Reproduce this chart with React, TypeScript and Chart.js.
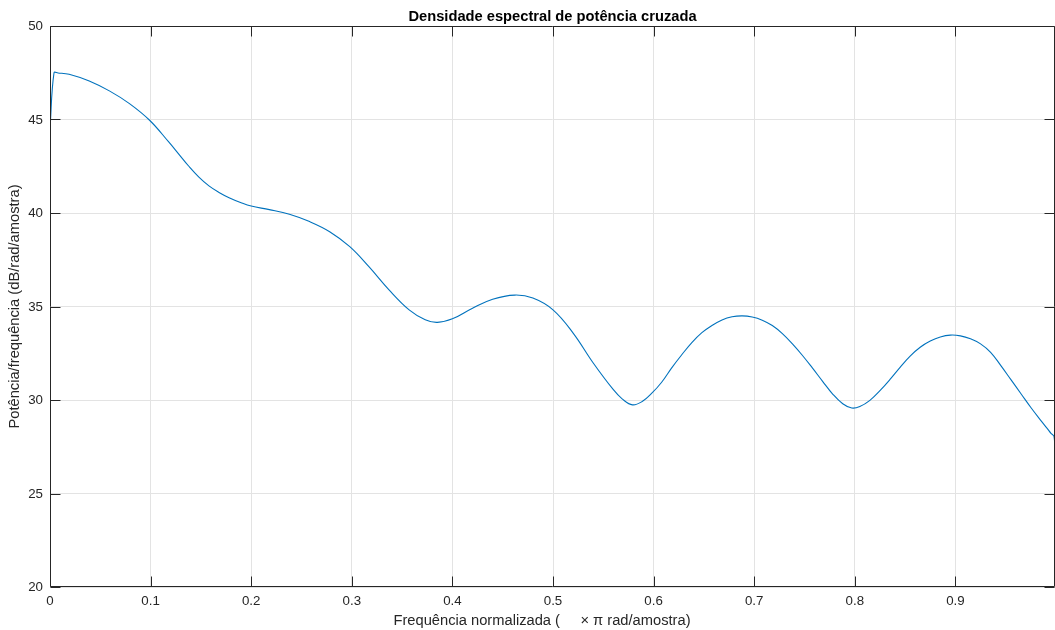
import React, { useEffect, useRef } from "react";
import { Chart, registerables } from "chart.js";

Chart.register(...registerables);

const titleText = "Densidade espectral de potência cruzada";
const xLabel = "Frequência normalizada (     × π rad/amostra)";
const yLabel = "Potência/frequência (dB/rad/amostra)";

const xTicks = [0, 0.1, 0.2, 0.3, 0.4, 0.5, 0.6, 0.7, 0.8, 0.9];
const xTickLabels = ["0", "0.1", "0.2", "0.3", "0.4", "0.5", "0.6", "0.7", "0.8", "0.9"];
const yTicks = [20, 25, 30, 35, 40, 45, 50];

const freq = [
  0, 0.004, 0.008, 0.019, 0.039, 0.059, 0.079, 0.099, 0.118, 0.128, 0.138,
  0.148, 0.158, 0.168, 0.178, 0.19, 0.2, 0.218, 0.238, 0.258, 0.278, 0.298,
  0.317, 0.337, 0.357, 0.373, 0.385, 0.4, 0.42, 0.44, 0.462, 0.48, 0.5, 0.52,
  0.54, 0.56, 0.569, 0.579, 0.589, 0.598, 0.608, 0.618, 0.628, 0.638, 0.648,
  0.658, 0.668, 0.678, 0.688, 0.698, 0.708, 0.718, 0.728, 0.738, 0.748,
  0.758, 0.768, 0.778, 0.788, 0.797, 0.805, 0.815, 0.825, 0.835, 0.845,
  0.855, 0.865, 0.875, 0.885, 0.895, 0.905, 0.915, 0.925, 0.935, 0.945,
  0.955, 0.965, 0.975, 0.985, 0.991, 0.995, 0.998, 0.999,
];
const power = [
  44.5, 47.5, 47.49, 47.42, 47.06, 46.53, 45.85, 44.96, 43.8, 43.15, 42.5,
  41.92, 41.45, 41.1, 40.82, 40.55, 40.37, 40.18, 39.93, 39.54, 39.0, 38.2,
  37.13, 35.89, 34.82, 34.29, 34.15, 34.34, 34.91, 35.39, 35.61, 35.45, 34.82,
  33.58, 31.98, 30.55, 30.05, 29.74, 29.93, 30.35, 30.95, 31.72, 32.42, 33.07,
  33.6, 33.98, 34.28, 34.45, 34.5, 34.44, 34.27, 33.98, 33.55, 33.0, 32.38,
  31.7, 31.0, 30.32, 29.8, 29.57, 29.65, 29.98, 30.5, 31.1, 31.75, 32.35,
  32.82, 33.15, 33.37, 33.47, 33.43, 33.27, 33.0, 32.55, 31.85, 31.1, 30.35,
  29.6, 28.9, 28.5, 28.22, 28.05, 27.3,
];

const FONT = "'Liberation Sans', Arial, Helvetica, sans-serif";
const TXT = "#262626";
const TICK_PX = 13.3;
const LABEL_PX = 14.7;

const framePlugin = {
  id: "frame",
  afterDatasetsDraw(chart: any) {
    const { ctx, chartArea: a, scales } = chart;
    ctx.save();
    ctx.strokeStyle = TXT;
    ctx.lineWidth = 1;
    const L = Math.round(a.left) + 0.5;
    const R = Math.round(a.right) - 0.5;
    const T = Math.round(a.top) + 0.5;
    const B = Math.round(a.bottom) - 0.5;
    ctx.beginPath();
    ctx.rect(L, T, R - L, B - T);
    ctx.stroke();
    const tl = 10;
    ctx.beginPath();
    for (const v of xTicks) {
      const px = Math.round(scales.x.getPixelForValue(v)) + 0.5;
      ctx.moveTo(px, B);
      ctx.lineTo(px, B - tl);
      ctx.moveTo(px, T);
      ctx.lineTo(px, T + tl);
    }
    for (const v of yTicks) {
      const py = Math.round(scales.y.getPixelForValue(v)) + 0.5;
      ctx.moveTo(L, py);
      ctx.lineTo(L + tl, py);
      ctx.moveTo(R, py);
      ctx.lineTo(R - tl, py);
    }
    ctx.stroke();
    ctx.restore();
  },
  afterDraw(chart: any) {
    const { ctx, chartArea: a, scales } = chart;
    ctx.save();
    ctx.fillStyle = TXT;
    ctx.font = `${TICK_PX}px ${FONT}`;
    ctx.textAlign = "center";
    ctx.textBaseline = "middle";
    xTicks.forEach((v, i) => {
      ctx.fillText(xTickLabels[i], scales.x.getPixelForValue(v), 601);
    });
    ctx.textAlign = "right";
    yTicks.forEach((v) => {
      ctx.fillText(String(v), 43, scales.y.getPixelForValue(v) + 0.5);
    });

    ctx.fillStyle = "#000";
    ctx.textAlign = "center";
    ctx.textBaseline = "alphabetic";
    ctx.font = `bold ${LABEL_PX}px ${FONT}`;
    ctx.fillText(titleText, (a.left + a.right) / 2, 20.5);

    ctx.fillStyle = TXT;
    ctx.font = `${LABEL_PX}px ${FONT}`;
    ctx.fillText(xLabel, 542, 625);
    ctx.translate(18.5, (a.top + a.bottom) / 2);
    ctx.rotate(-Math.PI / 2);
    ctx.fillText(yLabel, 0, 0);
    ctx.restore();
  },
};

export default function App() {
  const ref = useRef<HTMLCanvasElement>(null);
  useEffect(() => {
    if (!ref.current) return;
    const chart = new Chart(ref.current, {
      type: "line",
      data: {
        datasets: [
          {
            data: freq.map((x, i) => ({ x, y: power[i] })),
            borderColor: "#0072bd",
            borderWidth: 1.1,
            pointRadius: 0,
            tension: 0.4,
            fill: false,
          },
        ],
      },
      options: {
        animation: false,
        responsive: false,
        layout: { padding: { top: 26, right: 0, left: 0, bottom: 0 } },
        plugins: {
          legend: { display: false },
          title: { display: false },
          tooltip: { enabled: false },
        },
        scales: {
          x: {
            type: "linear",
            min: 0,
            max: 0.999,
            afterBuildTicks: (s: any) => {
              s.ticks = xTicks.map((v) => ({ value: v }));
            },
            afterFit: (s: any) => {
              s.height = 43;
            },
            grid: { color: "#e3e3e3", drawTicks: false },
            border: { display: false },
            ticks: { display: false },
          },
          y: {
            type: "linear",
            min: 20,
            max: 50,
            afterBuildTicks: (s: any) => {
              s.ticks = yTicks.map((v) => ({ value: v }));
            },
            afterFit: (s: any) => {
              s.width = 50;
            },
            grid: { color: "#e3e3e3", drawTicks: false },
            border: { display: false },
            ticks: { display: false },
          },
        },
      },
      plugins: [framePlugin],
    });
    return () => chart.destroy();
  }, []);
  return (
    <div style={{ position: "fixed", left: 0, top: 0, width: 1055, height: 630, background: "#fff" }}>
      <canvas ref={ref} width={1055} height={630} />
    </div>
  );
}
